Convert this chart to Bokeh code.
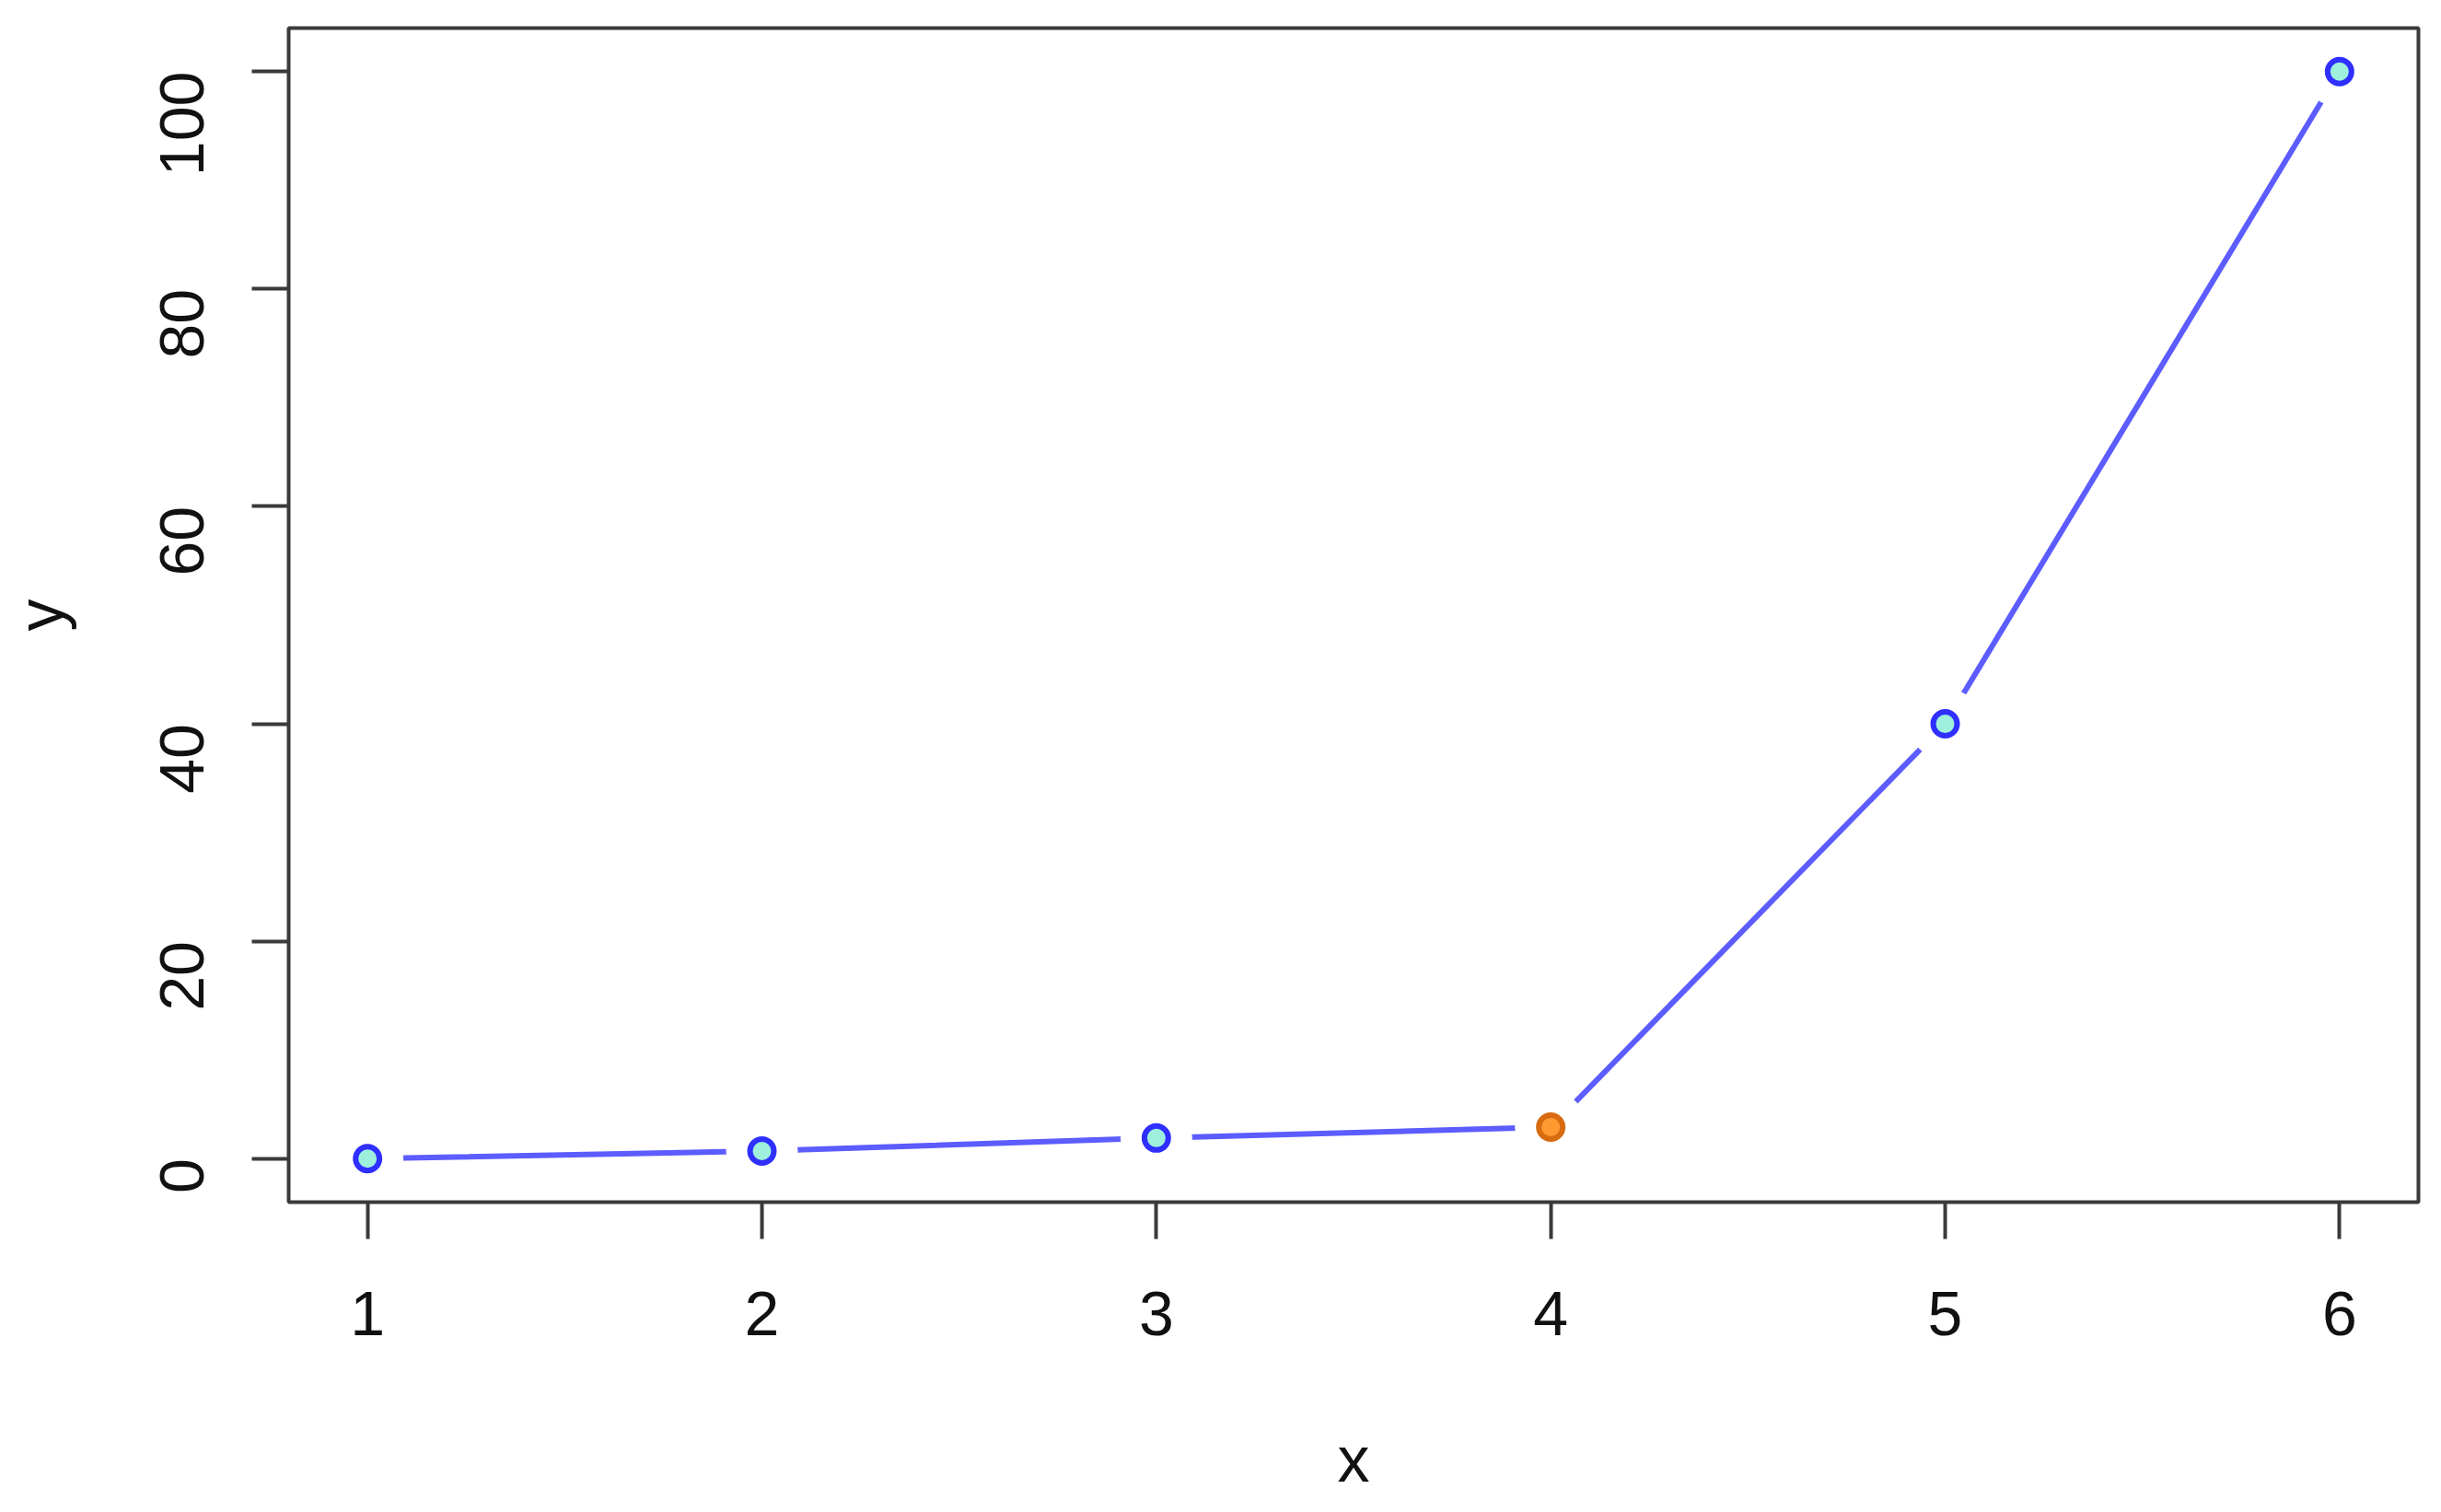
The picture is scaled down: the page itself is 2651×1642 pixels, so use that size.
import math
from bokeh.plotting import figure
from bokeh.models import Range1d, FixedTicker
from bokeh.embed import file_html
from bokeh.resources import INLINE

# data
x_vals = [1, 2, 3, 4, 5, 6]
y_vals = [0, 0.7, 1.9, 2.9, 40, 100]
highlight_index = 3
x_ticks = [1, 2, 3, 4, 5, 6]
y_ticks = [0, 20, 40, 60, 80, 100]

FONT = "Liberation Sans"

p = figure(
    width=2635, height=1626,
    x_range=Range1d(0.8, 6.2), y_range=Range1d(-4, 104),
    output_backend="svg", toolbar_location=None,
    min_border_left=313, min_border_right=9, min_border_top=30, min_border_bottom=321,
    frame_width=2313, frame_height=1275,
)
p.grid.visible = False
p.background_fill_color = "white"
p.border_fill_color = "white"
p.outline_line_color = "#3a3a3a"
p.outline_line_width = 4

p.xaxis.axis_label = "x"
p.yaxis.axis_label = "y"
p.xaxis.ticker = FixedTicker(ticks=x_ticks)
p.yaxis.ticker = FixedTicker(ticks=y_ticks)
for ax in (p.xaxis[0], p.yaxis[0]):
    ax.axis_line_color = None
    ax.major_tick_out = 40
    ax.major_tick_in = 0
    ax.minor_tick_line_color = None
    ax.major_tick_line_color = "#3a3a3a"
    ax.major_tick_line_width = 4
    ax.major_label_text_font = FONT
    ax.major_label_text_font_size = "68px"
    ax.major_label_text_color = "#111111"
    ax.axis_label_text_font = FONT
    ax.axis_label_text_font_size = "70px"
    ax.axis_label_text_font_style = "normal"
    ax.axis_label_text_color = "#111111"
p.xaxis.major_label_standoff = 57
p.yaxis.major_label_standoff = 76
p.yaxis.major_label_orientation = math.pi / 2
p.xaxis.axis_label_standoff = 93
p.yaxis.axis_label_standoff = 65

# connecting line
p.line(x_vals, y_vals, line_color="#5c5cff", line_width=6)

# gaps around points (type="b")
p.scatter(x_vals, y_vals, size=78, fill_color="white", line_color=None)

norm_x = [x for i, x in enumerate(x_vals) if i != highlight_index]
norm_y = [y for i, y in enumerate(y_vals) if i != highlight_index]
hi_x = [x_vals[highlight_index]]
hi_y = [y_vals[highlight_index]]

p.scatter(norm_x, norm_y, size=26, fill_color="#9ef0dc", line_color="#2f2fff", line_width=6)
p.scatter(hi_x, hi_y, size=26, fill_color="#ff9a30", line_color="#d86a10", line_width=6)

open("out.html", "w").write(file_html(p, INLINE))
